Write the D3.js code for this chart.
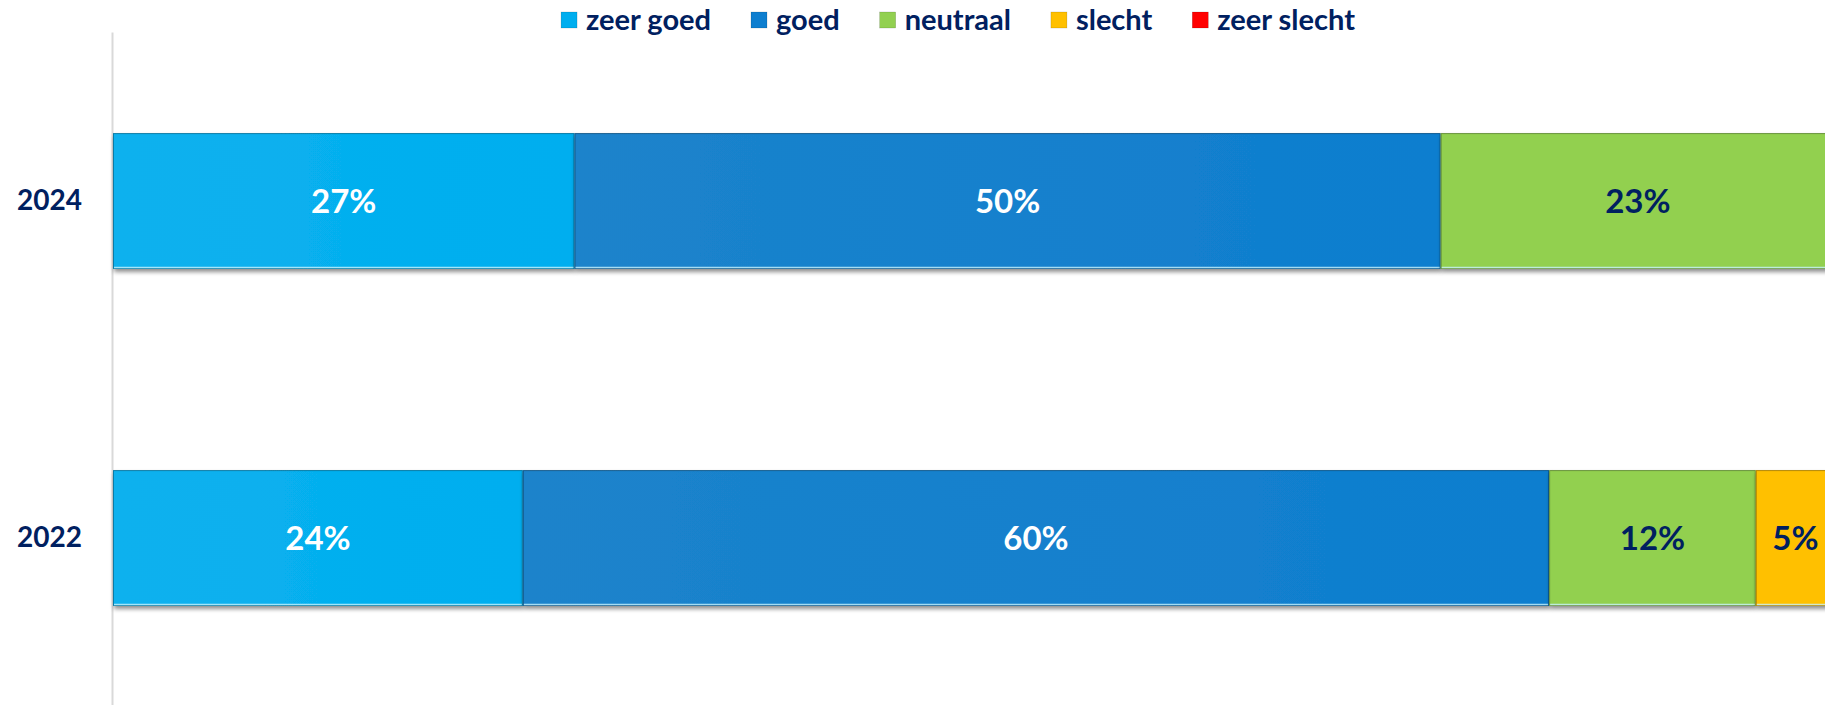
<!DOCTYPE html>
<html>
<head>
<meta charset="utf-8">
<script src="https://cdn.jsdelivr.net/npm/d3@7"></script>
<style>
  html, body { margin: 0; padding: 0; background: #fff; }
  svg { display: block; font-family: Lato, "Open Sans", sans-serif; }
  .axis .domain { stroke: #d9d9d9; stroke-width: 2; }
  .axis text { fill: #002060; font-size: 28px; font-weight: bold; }
</style>
</head>
<body>
<div id="chart"></div>
<script>
const years = ["2024", "2022"];
const categories = ["zeer goed", "goed", "neutraal", "slecht", "zeer slecht"];
const values2024 = [26.8, 50.3, 22.9, 0, 0];
const values2022 = [23.8, 59.6, 12.0, 4.6, 0];
const colors = ["#00AEEF", "#0E7ECF", "#92D050", "#FFC000", "#FF0000"];
const lightColors = ["#0CB1EE", "#1C83CB", "#92D050", "#FFC000", "#FF0000"];
const labelColors = ["#ffffff", "#ffffff", "#002060", "#002060", "#002060"];

const width = 1825;
const height = 705;

const seriesByYear = { "2024": values2024, "2022": values2022 };

const rows = years.map(year => {
  const row = { year };
  categories.forEach((c, i) => row[c] = seriesByYear[year][i]);
  return row;
});

const stacked = d3.stack().keys(categories)(rows);

const svg = d3.select("#chart").append("svg")
  .attr("width", width)
  .attr("height", height);

const defs = svg.append("defs");

const shadow = defs.append("filter")
  .attr("id", "shadow")
  .attr("x", "-5%").attr("y", "-20%")
  .attr("width", "110%").attr("height", "150%");
shadow.append("feDropShadow")
  .attr("dx", 1).attr("dy", 3)
  .attr("stdDeviation", 2)
  .attr("flood-color", "#000")
  .attr("flood-opacity", 0.45);

categories.forEach((c, i) => {
  const g = defs.append("linearGradient")
    .attr("id", "grad" + i)
    .attr("x1", "0%").attr("x2", "100%")
    .attr("y1", "0%").attr("y2", "0%");
  g.append("stop").attr("offset", "0%").attr("stop-color", lightColors[i]);
  g.append("stop").attr("offset", "100%").attr("stop-color", colors[i]);
});

const x = d3.scaleLinear()
  .domain([0, 100])
  .range([113, 1835]);

const y = d3.scaleBand()
  .domain(years)
  .range([32, 707])
  .paddingInner(0.597)
  .paddingOuter(0.3);

// y axis: grey line + year labels
svg.append("g")
  .attr("class", "axis")
  .attr("transform", "translate(112,0)")
  .call(d3.axisLeft(y).tickSize(0).tickSizeOuter(0).tickPadding(30))
  .call(g => g.selectAll("text").attr("font-family", "Lato, sans-serif"));

// bars
const layers = svg.append("g")
  .selectAll("g")
  .data(stacked)
  .join("g");

const bars = layers.selectAll("g")
  .data(d => d.map(p => ({ key: d.key, index: d.index, p })))
  .join("g")
  .filter(d => d.p[1] - d.p[0] > 0);

bars.append("rect")
  .attr("x", d => x(d.p[0]))
  .attr("y", d => y(d.p.data.year))
  .attr("width", d => x(d.p[1]) - x(d.p[0]))
  .attr("height", y.bandwidth())
  .attr("fill", d => `url(#grad${d.index})`)
  .attr("filter", "url(#shadow)");

// thin segment outline
bars.append("rect")
  .attr("x", d => x(d.p[0]) + 0.5)
  .attr("y", d => y(d.p.data.year) + 0.5)
  .attr("width", d => x(d.p[1]) - x(d.p[0]) - 1)
  .attr("height", y.bandwidth() - 1)
  .attr("fill", "none")
  .attr("stroke", "rgba(0,0,0,0.3)")
  .attr("stroke-width", 1);

// light edge at the bottom
bars.append("line")
  .attr("x1", d => x(d.p[0]) + 1)
  .attr("x2", d => x(d.p[1]) - 1)
  .attr("y1", d => y(d.p.data.year) + y.bandwidth() - 1.5)
  .attr("y2", d => y(d.p.data.year) + y.bandwidth() - 1.5)
  .attr("stroke", "rgba(200,245,255,0.8)")
  .attr("stroke-width", 1.5);

bars.append("text")
  .attr("x", d => (x(d.p[0]) + x(d.p[1])) / 2)
  .attr("y", d => y(d.p.data.year) + y.bandwidth() / 2)
  .attr("dy", "0.36em")
  .attr("text-anchor", "middle")
  .attr("font-size", 33)
  .attr("font-weight", "bold")
  .attr("fill", d => labelColors[d.index])
  .text(d => Math.round(d.p[1] - d.p[0]) + "%");

// legend
const legend = svg.append("g").attr("class", "legend");
const items = legend.selectAll("g")
  .data(categories)
  .join("g");

items.append("rect")
  .attr("width", 16)
  .attr("height", 16)
  .attr("y", 12)
  .attr("fill", (d, i) => colors[i])
  .attr("stroke", "rgba(0,0,0,0.25)")
  .attr("stroke-width", 0.5);

items.append("text")
  .attr("x", 25)
  .attr("y", 20)
  .attr("dy", "0.36em")
  .attr("font-size", 29)
  .attr("font-weight", "bold")
  .attr("fill", "#002060")
  .text(d => d);

let offset = 0;
const gap = 40;
items.each(function () {
  const w = 25 + d3.select(this).select("text").node().getComputedTextLength();
  d3.select(this).attr("transform", `translate(${offset},0)`);
  offset += w + gap;
});
const totalWidth = offset - gap;
legend.attr("transform", `translate(${958 - totalWidth / 2},0)`);
</script>
</body>
</html>
